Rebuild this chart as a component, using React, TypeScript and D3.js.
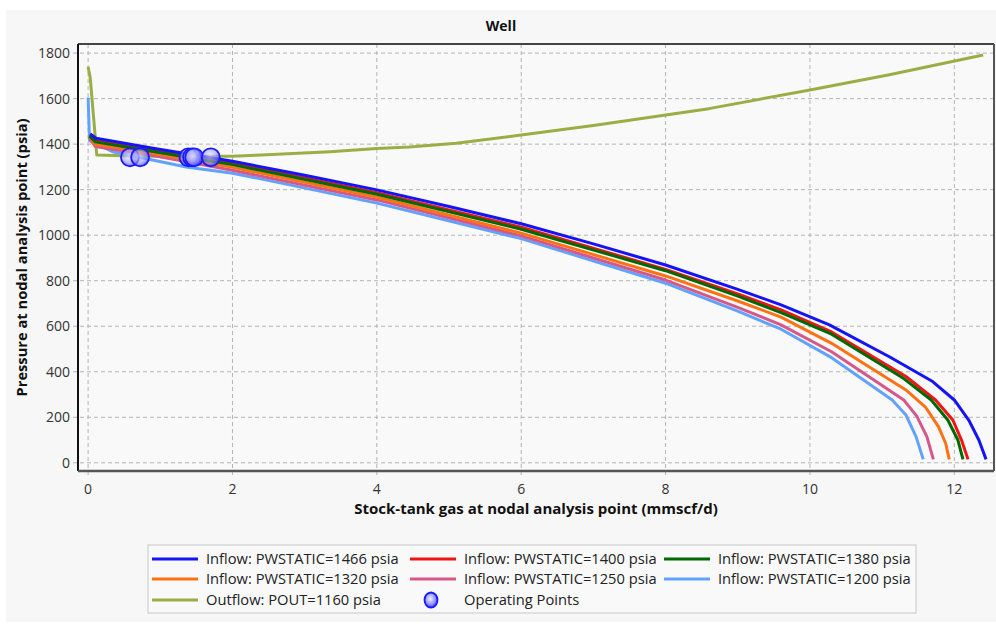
import * as d3 from "d3";

type Pt = [number, number];

const W = 996;
const H = 628;
const plot = { left: 78, right: 994, top: 44, bottom: 471 };

// inflow curves: [gas rate mmscf/d, pressure psia]
const inflow1466: Pt[] = [
  [0.03, 1445], [0.11, 1426], [0.9, 1382], [2.0, 1325], [3, 1263], [4, 1199],
  [5, 1126], [6, 1050], [7, 962], [8, 869], [9, 762], [9.6, 694], [10.27, 606],
  [11.1, 466], [11.7, 357], [12.0, 276], [12.2, 188], [12.34, 100], [12.44, 15],
];
const inflow1400: Pt[] = [
  [0.02, 1440], [0.1, 1418], [0.9, 1374], [2, 1316], [4, 1187], [6, 1035],
  [8, 850], [9, 742], [9.6, 672], [10.3, 575], [11.33, 379], [11.74, 276], [11.98, 188],
  [12.1, 100], [12.19, 15],
];
const inflow1380: Pt[] = [
  [0.02, 1435], [0.1, 1410], [0.9, 1368], [2, 1310], [4, 1180], [6, 1026],
  [8, 844], [9, 732], [9.6, 660], [10.3, 565], [11.3, 370], [11.68, 276], [11.91, 188],
  [12.05, 100], [12.12, 15],
];
const inflow1320: Pt[] = [
  [0.02, 1430], [0.1, 1400], [0.9, 1360], [2, 1298], [4, 1167], [6, 1009],
  [8, 821], [9, 711], [9.6, 640], [10.3, 525], [11.33, 320], [11.6, 245], [11.78, 159],
  [11.88, 86], [11.93, 15],
];
const inflow1250: Pt[] = [
  [0.02, 1425], [0.1, 1390], [0.9, 1350], [2, 1285], [4, 1155], [6, 997],
  [8, 803], [9, 683], [9.6, 606], [10.3, 488], [11.0, 340], [11.3, 276], [11.48, 205],
  [11.62, 115], [11.71, 15],
];
const inflow1200: Pt[] = [
  [0, 1605], [0.02, 1415], [0.34, 1367], [1.36, 1300], [2, 1272], [2.46, 1243],
  [4, 1141], [6, 985], [8, 789], [9, 666], [9.6, 587], [10.3, 462], [11.14, 276],
  [11.33, 210], [11.47, 115], [11.57, 15],
];
const outflow1160: Pt[] = [
  [0, 1740], [0.03, 1690], [0.12, 1352], [0.5, 1349], [1.0, 1347], [2.0, 1347],
  [2.4, 1352], [3.35, 1367], [4.0, 1381], [4.45, 1388], [5.1, 1404], [6.0, 1440],
  [7.0, 1482], [8.6, 1556], [10.0, 1638], [11.1, 1705], [12.4, 1792],
];
const operatingPoints: Pt[] = [
  [0.58, 1342], [0.72, 1342], [1.39, 1342], [1.44, 1342], [1.47, 1342], [1.7, 1342],
];

const seriesNames = [
  "Inflow: PWSTATIC=1466 psia",
  "Inflow: PWSTATIC=1400 psia",
  "Inflow: PWSTATIC=1380 psia",
  "Inflow: PWSTATIC=1320 psia",
  "Inflow: PWSTATIC=1250 psia",
  "Inflow: PWSTATIC=1200 psia",
  "Outflow: POUT=1160 psia",
];
const seriesData = [inflow1466, inflow1400, inflow1380, inflow1320, inflow1250, inflow1200, outflow1160];
const seriesColors = ["#1414f5", "#ee1515", "#006a00", "#ff7214", "#d4588a", "#62a2ff", "#9aae45"];

const xTicks = [0, 2, 4, 6, 8, 10, 12];
const yTicks = [0, 200, 400, 600, 800, 1000, 1200, 1400, 1600, 1800];

const font = "'Open Sans', 'Noto Sans', sans-serif";

const App = () => {
  const x = d3.scaleLinear().domain([-0.14, 12.55]).range([plot.left, plot.right]);
  const y = d3.scaleLinear().domain([-36, 1840]).range([plot.bottom, plot.top]);
  const line = d3
    .line<Pt>()
    .x((d) => x(d[0]))
    .y((d) => y(d[1]));

  // draw order: outflow first, inflow on top (blue last)
  const order = [6, 5, 4, 3, 1, 2, 0];

  const legendCols = [152, 410, 664];
  const legendRows = [559, 579, 600];

  return (
    <svg width={W} height={H} style={{ position: "absolute", left: 0, top: 0 }} fontFamily={font}>
      <defs>
        <radialGradient id="opGrad" cx="45%" cy="42%" r="60%">
          <stop offset="0%" stopColor="#f0f0ff" stopOpacity={0.6} />
          <stop offset="60%" stopColor="#9a9aff" stopOpacity={0.6} />
          <stop offset="100%" stopColor="#3a3aff" stopOpacity={0.8} />
        </radialGradient>
        <radialGradient id="opGradLegend" cx="45%" cy="42%" r="60%">
          <stop offset="0%" stopColor="#f0f0ff" />
          <stop offset="60%" stopColor="#9a9aff" />
          <stop offset="100%" stopColor="#3a3aff" />
        </radialGradient>
        <clipPath id="plotClip">
          <rect x={plot.left} y={plot.top} width={plot.right - plot.left} height={plot.bottom - plot.top} />
        </clipPath>
      </defs>
      <rect x={0} y={0} width={W} height={H} fill="#ffffff" />
      <rect x={6} y={10} width={990} height={612} fill="#f7f7f7" />
      <rect x={plot.left} y={plot.top} width={plot.right - plot.left} height={plot.bottom - plot.top} fill="#f9f9f9" />

      <text x={501} y={31} textAnchor="middle" fontSize={14} fontWeight="bold" fill="#111">
        Well
      </text>

      {/* grid */}
      {xTicks.map((t) => (
        <line key={"gx" + t} x1={x(t)} x2={x(t)} y1={plot.top} y2={plot.bottom + 5}
          stroke="#b4b4b4" strokeDasharray="4,3" />
      ))}
      {yTicks.map((t) => (
        <line key={"gy" + t} x1={plot.left - 5} x2={plot.right} y1={y(t)} y2={y(t)}
          stroke="#b4b4b4" strokeDasharray="4,3" />
      ))}

      {/* series */}
      <g clipPath="url(#plotClip)">
        {order.map((i) => (
          <path key={seriesNames[i]} d={line(seriesData[i]) ?? ""} fill="none"
            stroke={seriesColors[i]} strokeWidth={3} strokeLinejoin="round" />
        ))}
        {operatingPoints.map((p, i) => (
          <circle key={"op" + i} cx={x(p[0])} cy={y(p[1])} r={9} fill="url(#opGrad)"
            stroke="#1a1aff" strokeWidth={1.8} />
        ))}
      </g>

      {/* frame */}
      <line x1={plot.left} x2={plot.right} y1={plot.top} y2={plot.top} stroke="#444" strokeWidth={2} />
      <line x1={plot.right} x2={plot.right} y1={plot.top} y2={plot.bottom} stroke="#555" strokeWidth={2} />
      <line x1={plot.left} x2={plot.left} y1={plot.top} y2={plot.bottom} stroke="#111" strokeWidth={2} />
      <line x1={plot.left} x2={plot.right} y1={plot.bottom} y2={plot.bottom} stroke="#555" strokeWidth={2.5} />

      {/* tick labels */}
      {xTicks.map((t) => (
        <text key={"tx" + t} x={x(t)} y={494} textAnchor="middle" fontSize={14} fill="#333">
          {t}
        </text>
      ))}
      {yTicks.map((t) => (
        <text key={"ty" + t} x={70} y={y(t)} dy="0.35em" textAnchor="end" fontSize={14} fill="#333">
          {t}
        </text>
      ))}

      <text x={(plot.left + plot.right) / 2} y={514} textAnchor="middle" fontSize={15} fontWeight="bold" fill="#111">
        Stock-tank gas at nodal analysis point (mmscf/d)
      </text>
      <text transform={`translate(27,${(plot.top + plot.bottom) / 2}) rotate(-90)`} textAnchor="middle"
        fontSize={14.7} fontWeight="bold" fill="#111">
        Pressure at nodal analysis point (psia)
      </text>

      {/* legend */}
      <rect x={148} y={545} width={768} height={68} fill="#f9f9f9" stroke="#c8c8c8" />
      {seriesNames.map((name, i) => {
        const cx = legendCols[i % 3];
        const cy = legendRows[Math.floor(i / 3)];
        return (
          <g key={"lg" + name}>
            <line x1={cx} x2={cx + 46} y1={cy} y2={cy} stroke={seriesColors[i]} strokeWidth={3} />
            <text x={cx + 54} y={cy} dy="0.35em" fontSize={14.7} fill="#222">
              {name}
            </text>
          </g>
        );
      })}
      <ellipse cx={legendCols[1] + 21} cy={legendRows[2]} rx={6.5} ry={7.5} fill="url(#opGradLegend)"
        stroke="#1a1aff" strokeWidth={1.8} />
      <text x={legendCols[1] + 54} y={legendRows[2]} dy="0.35em" fontSize={14.7} fill="#222">
        Operating Points
      </text>
    </svg>
  );
};

export default App;
